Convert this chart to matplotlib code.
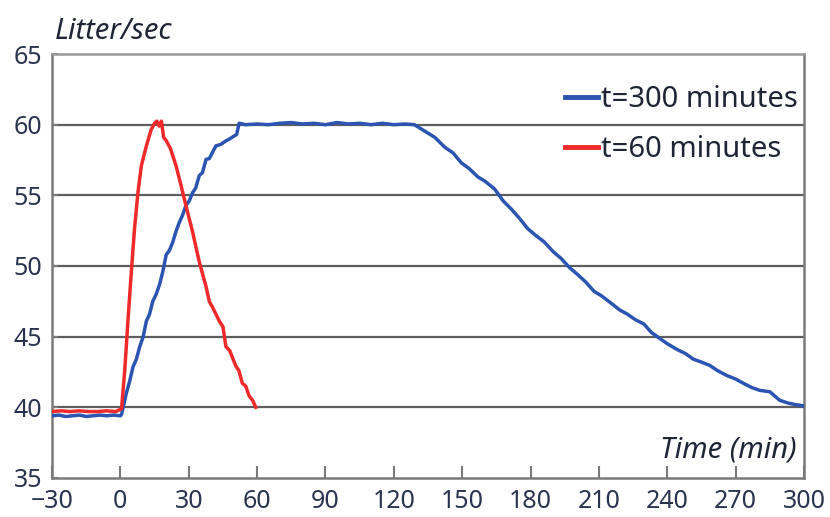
import matplotlib.pyplot as plt

plt.rcParams['font.family'] = ['Noto Sans', 'DejaVu Sans']

# flow for the 60 minute run
t60_time = [-30, -26, -22, -18, -14, -10, -6, -2, 0.5, 1.9, 3.3, 4.8, 6.2, 7.7,
            9.2, 11.4, 13.5, 15, 16, 17, 18, 19, 20, 22, 24.4, 26.6, 29.1, 31.7,
            34.6, 36.8, 37.5, 39, 41, 43.4, 45, 46.3, 48, 50.7, 52, 53.5, 55,
            56.5, 58, 59.4]
t60_flow = [39.7, 39.75, 39.7, 39.75, 39.7, 39.7, 39.75, 39.7, 39.9, 42.6, 46.1,
            49.6, 52.65, 55.2, 57.1, 58.5, 59.65, 60.1, 60.25, 59.9, 60.25, 59.1,
            58.9, 58.3, 57.1, 55.7, 54.05, 52.4, 50.3, 49.0, 48.6, 47.5, 46.9,
            46.1, 45.7, 44.3, 44.0, 42.9, 42.6, 41.7, 41.5, 40.8, 40.5, 40.0]

# flow for the 300 minute run
t300_time = [-30, -27, -24, -21, -18, -15, -12, -9, -6, -3, 0,
             0.5, 2.6, 4, 5.5, 7, 8.4, 10, 11.4, 12.8, 14.2, 15.7, 17.2, 18.6,
             20.1, 21.5, 23, 24.5, 25.9, 27.3, 28.8, 30.2, 31.7, 33, 34.6, 36,
             37.6, 39, 41.9, 44, 46.3, 48, 49.9, 51, 52.1,
             55, 60, 65, 70, 75, 80, 85, 90, 95, 100, 105, 110, 115, 120, 125,
             129, 132, 135, 138, 142.4, 146, 149.6, 153, 156.9, 160, 164.2, 168,
             171.4, 175, 178.7, 182, 186, 190, 193.3, 197, 200.6, 204, 207.9,
             211, 215.1, 219, 222.4, 226, 229.7, 233, 236.9, 240, 244.2, 248,
             251.5, 255, 258.8, 262, 266.1, 270, 273.4, 277, 280.6, 285, 289.3,
             293, 296, 300]
t300_flow = [39.4, 39.45, 39.35, 39.4, 39.45, 39.35, 39.4, 39.45, 39.4, 39.45, 39.4,
             39.5, 41.0, 41.8, 42.85, 43.4, 44.25, 45.0, 46.1, 46.6, 47.5, 48.0, 48.7, 49.6,
             50.8, 51.1, 51.7, 52.5, 53.1, 53.6, 54.3, 54.6, 55.2, 55.5, 56.4, 56.6,
             57.55, 57.6, 58.5, 58.6, 58.85, 59.0, 59.2, 59.3, 60.1,
             60.0, 60.05, 60.0, 60.1, 60.15, 60.05, 60.1, 60.0, 60.15, 60.05, 60.1, 60.0, 60.1, 60.0, 60.05,
             60.0, 59.7, 59.4, 59.1, 58.4, 58.0, 57.3, 56.9, 56.3, 56.0, 55.45, 54.6,
             54.05, 53.4, 52.65, 52.2, 51.7, 51.0, 50.55, 49.9, 49.4, 48.9, 48.2,
             47.9, 47.4, 46.9, 46.6, 46.2, 45.9, 45.3, 44.85, 44.5, 44.1, 43.8,
             43.4, 43.2, 42.95, 42.6, 42.25, 42.0, 41.7, 41.4, 41.2, 41.1, 40.5,
             40.3, 40.2, 40.1]

x_ticks = [-30, 0, 30, 60, 90, 120, 150, 180, 210, 240, 270, 300]
y_ticks = [35, 40, 45, 50, 55, 60, 65]

label_col = '#2a3350'
text_col = '#1f2535'
axis_col = '#7a7a7a'

fig = plt.figure(figsize=(8.3, 5.17), dpi=100)
ax = fig.add_axes([0.0627, 0.0755, 0.906, 0.82])

for yv in y_ticks[1:-1]:
    ax.axhline(yv, color='#5e5e5e', lw=1.6, zorder=1)

ax.plot(t300_time, t300_flow, color='#2b55b0', lw=2.5, label='t=300 minutes', zorder=3)
ax.plot(t60_time, t60_flow, color='#ee2a2a', lw=2.5, label='t=60 minutes', zorder=4)

ax.set_xlim(-30, 300)
ax.set_ylim(35, 65)
ax.set_xticks(x_ticks)
ax.set_yticks(y_ticks)

for side in ['left', 'bottom', 'right', 'top']:
    ax.spines[side].set_color(axis_col)
    ax.spines[side].set_linewidth(1.8)
ax.spines['top'].set_color('#999999')

ax.tick_params(axis='x', direction='in', length=9, width=1.5, color=axis_col,
               labelsize=18, labelcolor=label_col, pad=8)
ax.tick_params(axis='y', direction='in', length=4, width=1.5, color=axis_col,
               labelsize=18, labelcolor=label_col, pad=7)

leg = ax.legend(loc='upper right', bbox_to_anchor=(1.0, 0.94), frameon=False,
                fontsize=21, handlelength=1.15, handletextpad=0.1,
                labelspacing=0.7, borderaxespad=0, borderpad=0.2)
for line in leg.get_lines():
    line.set_linewidth(3.5)
for txt in leg.get_texts():
    txt.set_color(text_col)

fig.text(0.066, 0.94, 'Litter/sec', fontsize=21, style='italic',
         color=text_col, va='center', ha='left')
ax.text(0.99, 0.066, 'Time (min)', transform=ax.transAxes, fontsize=21,
        style='italic', color=text_col, va='center', ha='right')

fig.savefig('out.png', dpi=100)
